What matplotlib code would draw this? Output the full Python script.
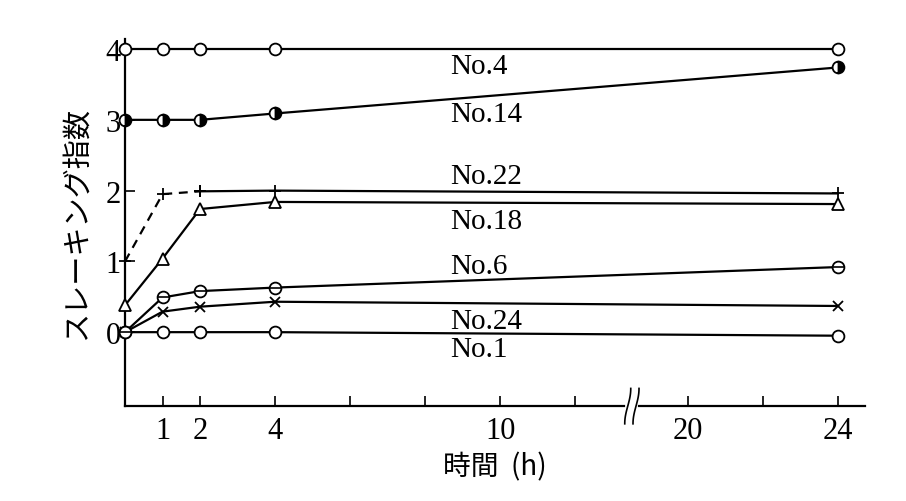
import numpy as np
import matplotlib
matplotlib.use("Agg")
import matplotlib.pyplot as plt

plt.rcParams['font.family'] = ['Liberation Serif', 'Noto Sans CJK JP']

# 測定時間 (h)
hours = [0, 1, 2, 4, 24]
no4 = [4.0, 4.0, 4.0, 4.0, 4.0]
no14 = [3.0, 3.0, 3.0, 3.09, 3.74]
no22 = [1.0, 1.95, 1.99, 2.0, 1.96]
no18 = [0.38, 1.04, 1.74, 1.84, 1.81]
no6 = [0.0, 0.49, 0.58, 0.63, 0.92]
no24 = [0.0, 0.29, 0.36, 0.43, 0.37]
no1 = [0.0, 0.0, 0.0, 0.0, -0.05]

series_names = ['No.4', 'No.14', 'No.22', 'No.18', 'No.6', 'No.24', 'No.1']
label_y = [3.76, 3.08, 2.21, 1.57, 0.94, 0.16, -0.24]

xtick_hours = [1, 2, 4, 6, 8, 10, 12, 20, 22, 24]
xtick_labels = ['1', '2', '4', '', '', '10', '', '20', '', '24']
ytick_vals = [0, 1, 2, 3, 4]

GAP = 5.0      # 省略した時間幅
BREAK_AT = 13.4


def to_disp(t):
    t = np.asarray(t, dtype=float)
    return np.where(t > 15, t - GAP, t)


fig = plt.figure(figsize=(9.06, 5.02), dpi=100)
ax = fig.add_axes([0.138, 0.189, 0.817, 0.731])

x = to_disp(hours)
lw = 1.6
ms = 8.5
k = dict(color='black', lw=lw, markersize=ms, markeredgewidth=1.3,
         markerfacecolor='white', clip_on=False, zorder=3)

ax.plot(x, no4, marker='o', **k)
ax.plot(x, no14, marker='o', fillstyle='right', markerfacecoloralt='white',
        **{**k, 'markerfacecolor': 'black'})
# No.22: 立ち上がりは破線
ax.plot(x[:3], no22[:3], ls=(0, (4, 3)), marker='+', **k)
ax.plot(x[2:], no22[2:], marker='+', **k)
ax.plot(x, no18, marker='^', **k)
ax.plot(x, no6, marker='o', **k)
ax.plot(x, no6, ls='none', marker='_', color='black', markersize=ms,
        markeredgewidth=1.2, clip_on=False, zorder=4)
ax.plot(x, no24, marker='x', **{**k, 'markersize': 7})
ax.plot(x, no1, marker='o', **k)

for txt, yv in zip(series_names, label_y):
    ax.text(8.67, yv, txt, ha='left', va='center', fontsize=21)

ax.set_xlim(0, 19.73)
ax.set_ylim(-1.045, 4.14)

ax.spines['top'].set_visible(False)
ax.spines['right'].set_visible(False)
ax.spines['bottom'].set_visible(False)
ax.spines['left'].set_linewidth(1.6)

# 横軸は省略部分で切る
ax.plot([0, BREAK_AT - 0.1], [-1.045, -1.045], color='black', lw=1.6, clip_on=False)
ax.plot([BREAK_AT + 0.3, 19.73], [-1.045, -1.045], color='black', lw=1.6, clip_on=False)
tt = np.linspace(-1, 1, 30)
for dx in (0.0, 0.22):
    ax.plot(BREAK_AT + dx + 0.08 * np.sin(tt * 1.6), -1.045 + 0.25 * tt,
            color='black', lw=1.2, clip_on=False)

ax.set_xticks(to_disp(xtick_hours))
ax.set_xticklabels(xtick_labels)
ax.set_yticks(ytick_vals)
ax.tick_params(axis='both', direction='in', length=7, width=1.2, labelsize=22)
ax.tick_params(axis='x', pad=7)
ax.tick_params(axis='y', pad=3)

ax.set_xlabel('時間  (h)', fontsize=20, labelpad=5,
              family=['Noto Sans CJK JP'])
ax.set_ylabel('スレーキング指数', fontsize=21, labelpad=10,
              family=['Noto Sans CJK JP'])

fig.savefig('out.png', dpi=100)
